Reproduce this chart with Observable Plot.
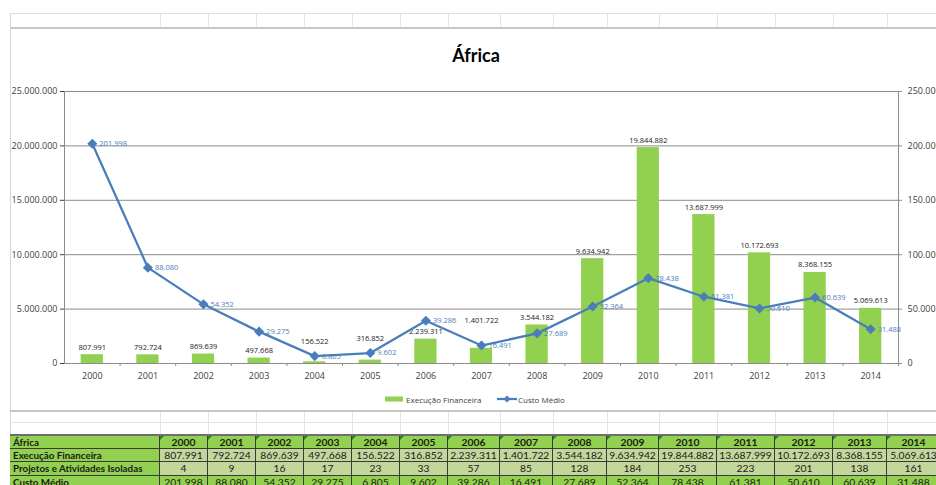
<!DOCTYPE html>
<html>
<head>
<meta charset="utf-8">
<script src="https://cdn.jsdelivr.net/npm/d3@7"></script>
<script src="https://cdn.jsdelivr.net/npm/@observablehq/plot@0.6"></script>
<style>
  html, body { margin: 0; padding: 0; background: #fff; }
  body { width: 936px; height: 485px; overflow: hidden; position: relative; font-family: "Open Sans", sans-serif; }
  .abs { position: absolute; }
  .hline { position: absolute; height: 1px; }
  .vline { position: absolute; width: 1px; }
  #title { position: absolute; left: 0; width: 952px; top: 44px; text-align: center; font-family: Lato, sans-serif; font-weight: bold; font-size: 18px; color: #000; }
  #chart { position: absolute; left: 0; top: 28px; }
  .cell { position: absolute; box-sizing: border-box; border-right: 1px solid #3a3a3a; border-bottom: 1px solid #3a3a3a;
          font-family: Lato, sans-serif; font-size: 10.3px; color: #1a1a1a; line-height: 13px; white-space: nowrap; overflow: hidden; text-align: center; }
  .lab { text-align: left; padding-left: 3px; font-weight: bold; font-size: 9.8px; }
  .hdr { font-weight: bold; }
  .tri::before { content: ""; position: absolute; left: 0; top: 0; border-top: 4px solid #2e7d32; border-right: 4px solid transparent; }
</style>
</head>
<body>
<div id="title">África</div>
<div id="chart"></div>
<div id="legend" class="abs" style="left:380px; top:390px;"></div>
<div id="grid"></div>
<script>
// ---- data ----
const years = ["2000","2001","2002","2003","2004","2005","2006","2007","2008","2009","2010","2011","2012","2013","2014"];
const execucao = [807991, 792724, 869639, 497668, 156522, 316852, 2239311, 1401722, 3544182, 9634942, 19844882, 13687999, 10172693, 8368155, 5069613];
const projetos = [4, 9, 16, 17, 23, 33, 57, 85, 128, 184, 253, 223, 201, 138, 161];
const custo = [201998, 88080, 54352, 29275, 6805, 9602, 39286, 16491, 27689, 52364, 78438, 61381, 50610, 60639, 31488];
const seriesNames = ["Execução Financeira", "Projetos e Atividades Isoladas", "Custo Médio"];
const regionName = "África";

// ---- layout tweaks (extra lift, px, of bar labels moved in the original) ----
const barLabelLift = {"2004": 13, "2005": 14, "2007": 20};

// ---- helpers ----
const fmt = d3.formatLocale({decimal: ",", thousands: ".", grouping: [3], currency: ["", ""]}).format(",");
const RATIO = 100; // secondary axis 0–250.000 vs primary 0–25.000.000
const data = years.map((y, i) => ({year: y, exec: execucao[i], proj: projetos[i], custo: custo[i]}));

const W = 936, H = 382, mL = 64, mR = 38, mT = 63, mB = 47;
const plotW = W - mL - mR;
const step = plotW / years.length;
const gray = "#8c8c8c";
const blue = "#4A7EBB";
const green = "#92D050";
const yTicks = d3.range(0, 25e6 + 1, 5e6);

const chart = Plot.plot({
  width: W, height: H,
  marginLeft: mL, marginRight: mR, marginTop: mT, marginBottom: mB,
  style: {fontFamily: "'Open Sans', sans-serif", fontSize: "9px", color: "#404040", background: "transparent", overflow: "visible"},
  x: {type: "band", domain: years, paddingInner: 0.6, paddingOuter: 0.3, round: false, label: null, tickSize: 0, tickPadding: 9, tickFormat: d => d},
  y: {domain: [0, 25e6], ticks: 5, tickFormat: fmt, tickSize: 4, tickPadding: 3, label: null},
  marks: [
    Plot.ruleY(yTicks, {y: d => d, stroke: gray, strokeWidth: 1}),
    Plot.frame({stroke: gray}),
    // right-axis tick marks and labels (Custo Médio scale)
    Plot.ruleY(yTicks, {y: d => d, stroke: gray, insetLeft: plotW, insetRight: -4}),
    Plot.text(yTicks, {y: d => d, text: d => fmt(d / RATIO), frameAnchor: "right", dx: 9, textAnchor: "start", fill: "#404040", fontSize: 9}),
    // category boundary ticks on the x axis
    Plot.ruleX(years, {x: d => d, y1: () => 0, y2: () => 0, insetBottom: -3, dx: step / 2, stroke: gray}),
    Plot.barY(data, {x: "year", y: "exec", fill: green}),
    ...data.map(d => Plot.text([d], {x: "year", y: "exec", text: d => fmt(d.exec), dy: -5 - (barLabelLift[d.year] || 0), lineAnchor: "bottom", fontSize: 7.5, fill: "#1a1a1a"})),
    Plot.line(data, {x: "year", y: d => d.custo * RATIO, stroke: blue, strokeWidth: 2.25}),
    Plot.dot(data, {x: "year", y: d => d.custo * RATIO, symbol: "diamond2", r: 3.6, fill: blue, stroke: blue}),
    Plot.text(data, {x: "year", y: d => d.custo * RATIO, text: d => fmt(d.custo), dx: 7, textAnchor: "start", fontSize: 7.5, fill: blue})
  ]
});
document.getElementById("chart").append(chart);

// ---- legend ----
document.getElementById("legend").innerHTML =
  `<svg width="200" height="16" style="font-family:'Open Sans',sans-serif;font-size:8px;fill:#404040">
     <rect x="5" y="5.5" width="18" height="5" fill="${green}"/>
     <text x="26" y="8" dominant-baseline="central">${seriesNames[0]}</text>
     <line x1="117" x2="137" y1="8" y2="8" stroke="${blue}" stroke-width="2.25"/>
     <path d="M127,4.5L130.5,8L127,11.5L123.5,8Z" fill="${blue}"/>
     <text x="138" y="8" dominant-baseline="central">${seriesNames[2]}</text>
   </svg>`;

// ---- spreadsheet grid and table ----
const grid = document.getElementById("grid");
const colX = [10, 160, 208, 256, 304, 352, 400, 448, 500, 553, 607, 659, 717, 775, 833, 887, 941];
function add(html) { grid.insertAdjacentHTML("beforeend", html); }
// header strip at top
add(`<div class="hline" style="left:10px;width:926px;top:13px;background:#dedede"></div>`);
add(`<div class="hline" style="left:10px;width:926px;top:27px;height:2px;background:#c6c6c6"></div>`);
colX.slice(1).forEach(x => add(`<div class="vline" style="left:${x}px;top:13px;height:14px;background:#e4e4e4"></div>`));
// sheet left edge
add(`<div class="vline" style="left:10px;top:13px;height:472px;background:#d4d4d4"></div>`);
// empty rows between chart and table
add(`<div class="hline" style="left:10px;width:926px;top:410px;height:2px;background:#c6c6c6"></div>`);
add(`<div class="hline" style="left:10px;width:926px;top:422px;background:#e4e4e4"></div>`);
colX.slice(1).forEach(x => add(`<div class="vline" style="left:${x}px;top:412px;height:23px;background:#e4e4e4"></div>`));
// table
add(`<div class="hline" style="left:10px;width:926px;top:434px;height:2px;background:#6e6e6e"></div>`);
const rowsY = [436, 449, 462, 476, 490];
const rows = [
  {label: regionName, vals: years, hdr: true, bg: green},
  {label: seriesNames[0], vals: execucao.map(fmt), bg: "#C4D79B"},
  {label: seriesNames[1], vals: projetos.map(String), bg: "#C4D79B"},
  {label: seriesNames[2], vals: custo.map(fmt), bg: green}
];
rows.forEach((r, ri) => {
  const top = rowsY[ri], h = rowsY[ri + 1] - top;
  add(`<div class="cell lab" style="left:10px;top:${top}px;width:${colX[1] - 10}px;height:${h}px;background:${green}">${r.label}</div>`);
  r.vals.forEach((v, ci) => {
    add(`<div class="cell${r.hdr ? " hdr tri" : ""}" style="left:${colX[ci + 1]}px;top:${top}px;width:${colX[ci + 2] - colX[ci + 1]}px;height:${h}px;background:${r.bg}">${v}</div>`);
  });
});
</script>
</body>
</html>
